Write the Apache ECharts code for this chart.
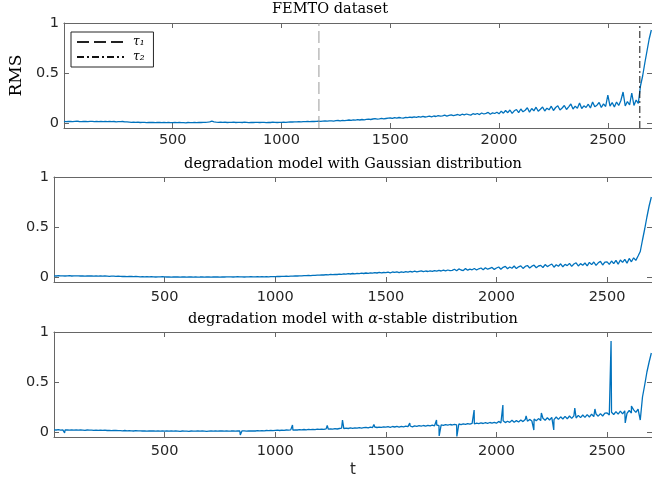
<html>
<head>
<meta charset="UTF-8" />
<title></title>
<script src="https://cdn.jsdelivr.net/npm/echarts@6/dist/echarts.min.js"></script>
<style type="text/css">
body{ margin:0; background:#fff;}
#main{ width:652px; height:479px;}
</style>
</head>
<body>
<div id="main"></div>
<script type="text/javascript">
var step = 10; // t spacing of the rms arrays (t = 0, 10, ... 2700)
var xTicks = [500, 1000, 1500, 2000, 2500];
var yTicks = [0, 0.5, 1];
var xMax = 2703, yMin = -0.05, yMax = 1;
var tau1 = 1172, tau2 = 2647;

var rmsFemto = [
  0.016,0.014,0.017,0.015,0.013,0.016,0.018,0.015,0.014,0.016,
  0.015,0.013,0.016,0.017,0.014,0.015,0.013,0.016,0.014,0.015,
  0.014,0.016,0.013,0.015,0.012,0.014,0.013,0.015,0.012,0.011,
  0.009,0.007,0.008,0.006,0.008,0.005,0.007,0.006,0.004,0.007,
  0.005,0.006,0.004,0.007,0.005,0.003,0.006,0.004,0.005,0.004,
  0.003,0.005,0.004,0.006,0.003,0.004,0.002,0.005,0.004,0.003,
  0.005,0.004,0.006,0.005,0.007,0.006,0.008,0.011,0.018,0.012,
  0.009,0.007,0.008,0.006,0.008,0.005,0.007,0.006,0.008,0.005,
  0.006,0.007,0.005,0.008,0.006,0.004,0.007,0.005,0.006,0.007,
  0.005,0.007,0.006,0.004,0.007,0.005,0.008,0.006,0.005,0.007,
  0.006,0.008,0.007,0.009,0.011,0.010,0.012,0.011,0.013,0.012,
  0.014,0.013,0.015,0.014,0.017,0.015,0.016,0.018,0.017,0.019,
  0.020,0.018,0.022,0.021,0.019,0.023,0.025,0.022,0.026,0.024,
  0.027,0.030,0.026,0.031,0.029,0.033,0.030,0.035,0.032,0.036,
  0.038,0.035,0.040,0.043,0.039,0.042,0.046,0.041,0.045,0.048,
  0.050,0.046,0.053,0.049,0.055,0.051,0.048,0.056,0.053,0.058,
  0.055,0.061,0.057,0.063,0.059,0.066,0.060,0.064,0.069,0.062,
  0.070,0.065,0.074,0.068,0.072,0.078,0.069,0.076,0.081,0.073,
  0.079,0.085,0.076,0.088,0.081,0.090,0.083,0.079,0.093,0.086,
  0.095,0.084,0.100,0.090,0.097,0.106,0.088,0.102,0.095,0.108,
  0.092,0.118,0.098,0.125,0.103,0.130,0.096,0.122,0.135,0.104,
  0.140,0.112,0.128,0.152,0.108,0.145,0.122,0.158,0.118,0.138,
  0.160,0.120,0.148,0.132,0.168,0.125,0.155,0.172,0.130,0.150,
  0.175,0.135,0.162,0.190,0.140,0.168,0.148,0.200,0.145,0.172,
  0.155,0.188,0.150,0.210,0.162,0.178,0.205,0.155,0.192,0.165,
  0.280,0.168,0.205,0.160,0.210,0.175,0.225,0.310,0.170,0.215,
  0.180,0.300,0.175,0.230,0.195,0.370,0.470,0.600,0.720,0.840,
  0.930
];

var rmsGauss = [
  0.012,0.010,0.013,0.011,0.012,0.010,0.011,0.013,0.010,0.012,
  0.011,0.012,0.010,0.011,0.009,0.011,0.010,0.012,0.009,0.010,
  0.009,0.011,0.008,0.010,0.009,0.007,0.009,0.008,0.006,0.008,
  0.006,0.005,0.007,0.004,0.006,0.005,0.003,0.005,0.004,0.002,
  0.004,0.002,0.003,0.001,0.003,0.002,0.000,0.002,0.001,0.003,
  0.001,0.000,0.002,-0.001,0.001,0.000,0.002,-0.001,0.000,0.001,
  -0.001,0.001,0.000,-0.002,0.001,-0.001,0.000,0.002,-0.001,0.001,
  0.000,-0.001,0.001,0.000,0.002,-0.001,0.001,0.000,0.002,0.001,
  0.002,0.000,0.001,0.003,0.001,0.002,0.000,0.002,0.001,0.003,
  0.002,0.001,0.003,0.002,0.004,0.002,0.003,0.001,0.004,0.003,
  0.004,0.006,0.005,0.007,0.006,0.008,0.007,0.009,0.008,0.011,
  0.010,0.012,0.011,0.014,0.013,0.016,0.014,0.017,0.016,0.019,
  0.018,0.021,0.020,0.024,0.022,0.026,0.023,0.027,0.025,0.029,
  0.027,0.031,0.028,0.033,0.030,0.035,0.031,0.036,0.034,0.038,
  0.035,0.040,0.037,0.042,0.038,0.044,0.040,0.046,0.041,0.045,
  0.043,0.048,0.041,0.050,0.046,0.052,0.044,0.051,0.047,0.054,
  0.049,0.056,0.050,0.058,0.052,0.057,0.061,0.053,0.060,0.055,
  0.062,0.056,0.064,0.058,0.066,0.060,0.068,0.061,0.070,0.063,
  0.066,0.078,0.062,0.081,0.070,0.064,0.084,0.068,0.079,0.072,
  0.085,0.070,0.082,0.090,0.072,0.093,0.078,0.087,0.096,0.076,
  0.090,0.100,0.078,0.097,0.106,0.082,0.100,0.088,0.110,0.084,
  0.102,0.112,0.086,0.106,0.115,0.090,0.108,0.118,0.093,0.110,
  0.116,0.095,0.124,0.104,0.118,0.130,0.098,0.122,0.108,0.132,
  0.102,0.126,0.114,0.136,0.106,0.130,0.142,0.110,0.134,0.118,
  0.140,0.112,0.146,0.124,0.150,0.116,0.142,0.156,0.120,0.148,
  0.152,0.126,0.160,0.134,0.166,0.128,0.170,0.146,0.176,0.138,
  0.186,0.152,0.192,0.166,0.210,0.255,0.370,0.480,0.600,0.710,
  0.800
];

var rmsStable = [
  0.022,0.020,0.023,0.019,0.021,0.020,0.022,0.018,0.021,0.019,
  0.020,0.018,0.021,0.019,0.017,0.020,0.018,0.019,0.016,0.018,
  0.017,0.019,0.016,0.018,0.015,0.017,0.014,0.016,0.015,0.013,
  0.014,0.012,0.015,0.011,0.013,0.012,0.010,0.013,0.011,0.012,
  0.010,0.012,0.009,0.011,0.010,0.012,0.008,0.011,0.009,0.010,
  0.008,0.010,0.009,0.011,0.008,0.010,0.009,0.007,0.010,0.008,
  0.009,0.007,0.010,0.008,0.009,0.011,0.008,0.010,0.009,0.007,
  0.009,0.011,0.008,0.010,0.009,0.012,0.010,0.008,0.011,0.009,
  0.010,0.012,0.009,0.011,0.010,0.012,0.011,0.009,0.012,0.010,
  0.012,0.010,0.013,0.011,0.014,0.012,0.015,0.013,0.016,0.014,
  0.016,0.018,0.015,0.019,0.017,0.020,0.018,0.021,0.019,0.022,
  0.020,0.023,0.021,0.025,0.022,0.026,0.023,0.027,0.024,0.028,
  0.026,0.029,0.027,0.031,0.028,0.032,0.029,0.034,0.030,0.035,
  0.038,0.033,0.039,0.035,0.041,0.036,0.042,0.038,0.044,0.039,
  0.043,0.047,0.041,0.048,0.044,0.050,0.045,0.049,0.046,0.051,
  0.048,0.053,0.047,0.055,0.050,0.056,0.049,0.057,0.052,0.058,
  0.054,0.060,0.052,0.062,0.056,0.063,0.058,0.065,0.059,0.066,
  0.061,0.068,0.062,0.070,0.064,0.072,0.066,0.073,0.068,0.075,
  0.070,0.077,0.072,0.080,0.074,0.082,0.076,0.084,0.078,0.086,
  0.080,0.088,0.083,0.091,0.085,0.093,0.087,0.095,0.089,0.097,
  0.088,0.106,0.090,0.112,0.094,0.108,0.096,0.118,0.098,0.114,
  0.100,0.120,0.104,0.124,0.108,0.126,0.110,0.130,0.112,0.134,
  0.114,0.138,0.118,0.142,0.120,0.146,0.124,0.150,0.126,0.152,
  0.130,0.156,0.132,0.160,0.136,0.162,0.140,0.166,0.144,0.170,
  0.146,0.174,0.150,0.178,0.154,0.180,0.158,0.184,0.160,0.188,
  0.190,0.170,0.198,0.175,0.204,0.178,0.208,0.182,0.212,0.186,
  0.215,0.190,0.222,0.196,0.228,0.120,0.350,0.470,0.600,0.700,
  0.790
];

// single-sample outliers of the alpha-stable model, [t, rms]
var stableSpikes = [
  [48,-0.01],[842,-0.03],[1078,0.07],[1235,0.065],[1304,0.12],[1446,0.075],
  [1608,0.09],[1729,0.12],[1741,-0.04],[1821,-0.045],[1899,0.22],[2029,0.27],
  [2134,0.16],[2169,0.02],[2203,0.19],[2259,0.02],[2354,0.24],[2445,0.23],
  [2518,0.91],[2582,0.09],[2610,0.26]
];

function toPoints(arr) {
  var pts = [];
  for (var i = 0; i < arr.length; i++) pts.push([i * step, arr[i]]);
  return pts;
}
var stablePts = toPoints(rmsStable).concat(stableSpikes).sort(function (a, b) { return a[0] - b[0]; });

var tops = [23, 177, 332];
var labelGaps = [5, 8, 7];
var axisCol = '#666', textCol = '#262626';
var grids = [], xAxes = [], yAxes = [];
for (var i = 0; i < 3; i++) {
  grids.push({ left: 54, width: 599, top: tops[i], height: 105 });
  xAxes.push({
    gridIndex: i, type: 'value', min: 0, max: xMax,
    axisLine: { onZero: false, lineStyle: { color: axisCol } },
    axisTick: { inside: true, length: 5, customValues: xTicks, lineStyle: { color: axisCol } },
    axisLabel: { customValues: xTicks, color: textCol, fontSize: 14.5, fontFamily: 'DejaVu Sans', margin: labelGaps[i],
      formatter: function (v) { return String(v); } },
    splitLine: { show: false }
  });
  xAxes.push({
    gridIndex: i, type: 'value', min: 0, max: xMax, position: 'top',
    axisLine: { onZero: false, lineStyle: { color: axisCol } },
    axisTick: { inside: true, length: 5, customValues: xTicks, lineStyle: { color: axisCol } },
    axisLabel: { show: false }, splitLine: { show: false }
  });
  yAxes.push({
    gridIndex: i, type: 'value', min: yMin, max: yMax,
    axisLine: { show: true, onZero: false, lineStyle: { color: axisCol } },
    axisTick: { show: true, inside: true, length: 5, customValues: yTicks, lineStyle: { color: axisCol } },
    axisLabel: { customValues: yTicks, color: textCol, fontSize: 14.5, fontFamily: 'DejaVu Sans', margin: 5 },
    splitLine: { show: false }
  });
  yAxes.push({
    gridIndex: i, type: 'value', min: yMin, max: yMax, position: 'right',
    axisLine: { show: true, onZero: false, lineStyle: { color: axisCol } },
    axisTick: { show: true, inside: true, length: 5, customValues: yTicks, lineStyle: { color: axisCol } },
    axisLabel: { show: false }, splitLine: { show: false }
  });
}
yAxes[0].name = 'RMS';
yAxes[0].nameLocation = 'middle';
yAxes[0].nameGap = 37;
yAxes[0].nameTextStyle = { fontFamily: 'DejaVu Serif', fontSize: 17, color: '#000' };
xAxes[4].name = 't';
xAxes[4].nameLocation = 'middle';
xAxes[4].nameGap = 26;
xAxes[4].nameTextStyle = { fontFamily: 'DejaVu Sans', fontSize: 15, color: textCol };

var serif = { fontFamily: 'DejaVu Serif', fontSize: 14.5, fontWeight: 'normal', color: '#000' };
function rmsLine(idx, pts) {
  return {
    type: 'line', xAxisIndex: idx * 2, yAxisIndex: idx * 2, data: pts,
    symbol: 'none', silent: true, z: 2,
    lineStyle: { color: '#0072BD', width: 1.3 }
  };
}

var myChart = echarts.init(document.getElementById('main'));
myChart.setOption({
  animation: false,
  title: [
    { text: 'FEMTO dataset', left: 330, top: 2, textAlign: 'center', padding: 0, textStyle: serif },
    { text: 'degradation model with Gaussian distribution', left: 353, top: 157, textAlign: 'center', padding: 0, textStyle: serif },
    { text: '{n|degradation model with }{a|α}{n|-stable distribution}', left: 353, top: 312, textAlign: 'center', padding: 0,
      textStyle: { rich: { n: serif, a: { fontFamily: 'DejaVu Serif', fontSize: 14.5, fontStyle: 'italic', fontWeight: 'normal', color: '#000' } } } }
  ],
  legend: {
    left: 71, top: 32, orient: 'vertical', selectedMode: false,
    padding: [4, 9, 4, 5], itemWidth: 47, itemHeight: 14, itemGap: 3,
    borderColor: '#262626', borderWidth: 1, backgroundColor: '#fff',
    itemStyle: { opacity: 0 },
    textStyle: { fontFamily: 'DejaVu Serif', fontStyle: 'italic', fontSize: 12, color: '#000', padding: [0, 0, 0, 4] },
    data: [{ name: 'τ₁', lineStyle: { color: '#222' } }, 'τ₂']
  },
  grid: grids,
  xAxis: xAxes,
  yAxis: yAxes,
  series: [
    rmsLine(0, toPoints(rmsFemto)),
    rmsLine(1, toPoints(rmsGauss)),
    rmsLine(2, stablePts),
    {
      name: 'τ₁', type: 'line', xAxisIndex: 0, yAxisIndex: 0, symbol: 'none', silent: true,
      data: [[tau1, yMin], [tau1, yMax]],
      lineStyle: { color: '#999', width: 1, type: [12, 5] }
    },
    {
      name: 'τ₂', type: 'line', xAxisIndex: 0, yAxisIndex: 0, symbol: 'none', silent: true,
      data: [[tau2, yMin], [tau2, yMax]],
      lineStyle: { color: '#111', width: 1, type: [7, 3, 2, 3] }
    }
  ]
});
</script>
</body>
</html>
